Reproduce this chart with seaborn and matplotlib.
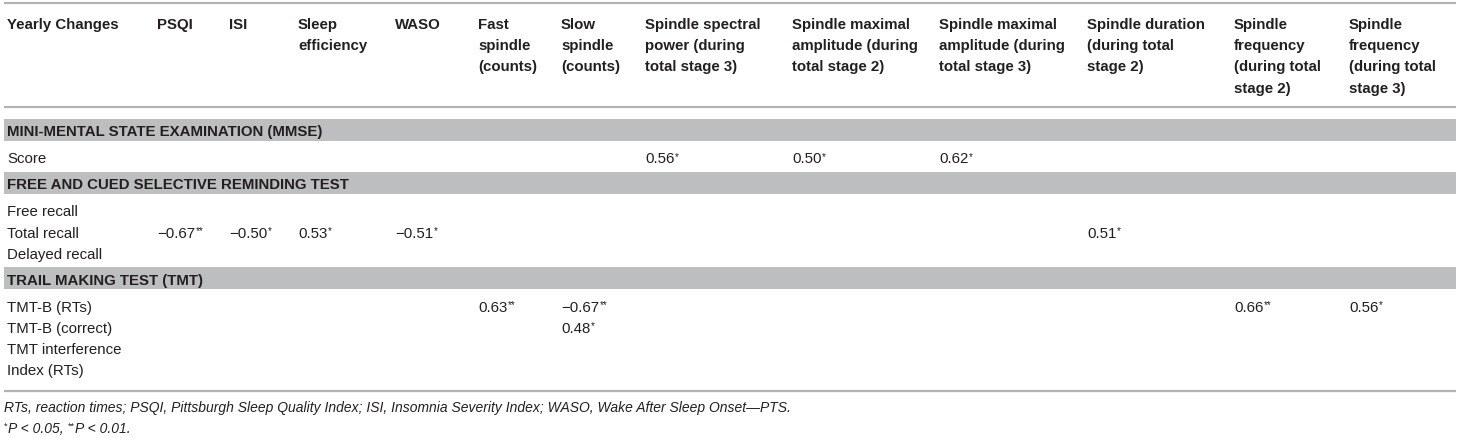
import numpy as np
import pandas as pd
import matplotlib
matplotlib.use("Agg")
import matplotlib.pyplot as plt
import seaborn as sns

# Table content
col_headers = ["Yearly Changes", "PSQI", "ISI", "Sleep\nefficiency", "WASO",
               "Fast\nspindle\n(counts)", "Slow\nspindle\n(counts)",
               "Spindle spectral\npower (during\ntotal stage 3)",
               "Spindle maximal\namplitude (during\ntotal stage 2)",
               "Spindle maximal\namplitude (during\ntotal stage 3)",
               "Spindle duration\n(during total\nstage 2)",
               "Spindle\nfrequency\n(during total\nstage 2)",
               "Spindle\nfrequency\n(during total\nstage 3)"]

sections = ["MINI-MENTAL STATE EXAMINATION (MMSE)",
            "FREE AND CUED SELECTIVE REMINDING TEST",
            "TRAIL MAKING TEST (TMT)"]

mmse_labels = ["Score"]
fcsrt_labels = ["Free recall", "Total recall", "Delayed recall"]
tmt_labels = ["TMT-B (RTs)", "TMT-B (correct)", "TMT interference\nIndex (RTs)"]

# correlation values per row (None = empty cell), and number of stars
score_r = [None, None, None, None, None, None, 0.56, 0.50, 0.62, None, None, None]
score_p = [0, 0, 0, 0, 0, 0, 1, 1, 1, 0, 0, 0]
free_r = [None] * 12
free_p = [0] * 12
total_r = [-0.67, -0.50, 0.53, -0.51, None, None, None, None, None, 0.51, None, None]
total_p = [2, 1, 1, 1, 0, 0, 0, 0, 0, 1, 0, 0]
delayed_r = [None] * 12
delayed_p = [0] * 12
tmtb_rt_r = [None, None, None, None, 0.63, -0.67, None, None, None, None, 0.66, 0.56]
tmtb_rt_p = [0, 0, 0, 0, 2, 2, 0, 0, 0, 0, 2, 1]
tmtb_cor_r = [None, None, None, None, None, 0.48, None, None, None, None, None, None]
tmtb_cor_p = [0, 0, 0, 0, 0, 1, 0, 0, 0, 0, 0, 0]
tmt_int_r = [None] * 12
tmt_int_p = [0] * 12

section_rows = [
    (mmse_labels, [score_r], [score_p]),
    (fcsrt_labels, [free_r, total_r, delayed_r], [free_p, total_p, delayed_p]),
    (tmt_labels, [tmtb_rt_r, tmtb_cor_r, tmt_int_r], [tmtb_rt_p, tmtb_cor_p, tmt_int_p]),
]

footnote1 = ("RTs, reaction times; PSQI, Pittsburgh Sleep Quality Index; "
             "ISI, Insomnia Severity Index; WASO, Wake After Sleep Onset\u2014PTS.")
footnote2 = [("*", "P < 0.05, "), ("**", "P < 0.01.")]

# Layout (pixels)
W, H = 1461, 439
col_x = [7, 157, 229, 298, 395, 478, 561, 645, 792, 939, 1087, 1234, 1349]
x0, x1 = 4, 1456
line_h = 21.2
fs = 10.8
text_color = "#231f20"
rule_color = "#b3b3b3"
band_color = "#bdbec0"

sns.set_theme(style="white")
plt.rcParams["font.family"] = ["Liberation Sans", "DejaVu Sans"]

fig = plt.figure(figsize=(W / 100, H / 100), dpi=100)
ax = fig.add_axes([0, 0, 1, 1])
ax.set_xlim(0, W)
ax.set_ylim(H, 0)
ax.axis("off")
renderer = fig.canvas.get_renderer()


def right_edge(t):
    bb = t.get_window_extent(renderer).transformed(ax.transData.inverted())
    return max(bb.x0, bb.x1)


def put(x, yc, s, **kw):
    # place text so that its cap-height centre sits at yc
    return ax.text(x, yc + 5.4, s, va="baseline", ha="left", fontsize=fs,
                   color=text_color, **kw)


def fmt(v):
    return ("\u2212" if v < 0 else "") + f"{abs(v):.2f}"


# top rule and header
ax.plot([x0, x1], [4, 4], color=rule_color, lw=1.6, solid_capstyle="butt")
for x, head in zip(col_x, col_headers):
    for k, line in enumerate(head.split("\n")):
        put(x, 23.5 + k * line_h, line, fontweight="bold")
ax.plot([x0, x1], [108, 108], color=rule_color, lw=1.6, solid_capstyle="butt")

y = 108
first = True
for title, (labels, rvals, pvals) in zip(sections, section_rows):
    top = y + 12 if first else y + 15
    first = False
    ax.axhspan(top + 22, top, xmin=x0 / W, xmax=x1 / W, color=band_color, lw=0)
    put(7, top + 11, title, fontweight="bold")
    y = top + 22 + 16 - line_h
    for lab, rv, pv in zip(labels, rvals, pvals):
        y += line_h
        parts = lab.split("\n")
        for k, line in enumerate(parts):
            put(7, y + k * line_h, line)
        for x, v, p in zip(col_x[1:], rv, pv):
            if v is None:
                continue
            t = put(x, y, fmt(v))
            ax.text(right_edge(t) + 0.5, y + 5.4 - 3.5, "*" * p, va="baseline",
                    ha="left", fontsize=7, color=text_color)
        y += (len(parts) - 1) * line_h

# bottom rule and footnotes
ax.plot([x0, x1], [392, 392], color=rule_color, lw=1.6, solid_capstyle="butt")
ax.text(4, 412, footnote1, va="baseline", ha="left", fontsize=10,
        style="italic", color=text_color)
fx = 4
for stars, txt in footnote2:
    s = ax.text(fx, 433 - 4, stars, va="baseline", ha="left", fontsize=6.5,
                color=text_color)
    fx = right_edge(s) + 0.5
    t = ax.text(fx, 433, txt, va="baseline", ha="left", fontsize=10,
                style="italic", color=text_color)
    fx = right_edge(t)

fig.savefig("out.png", dpi=100)
